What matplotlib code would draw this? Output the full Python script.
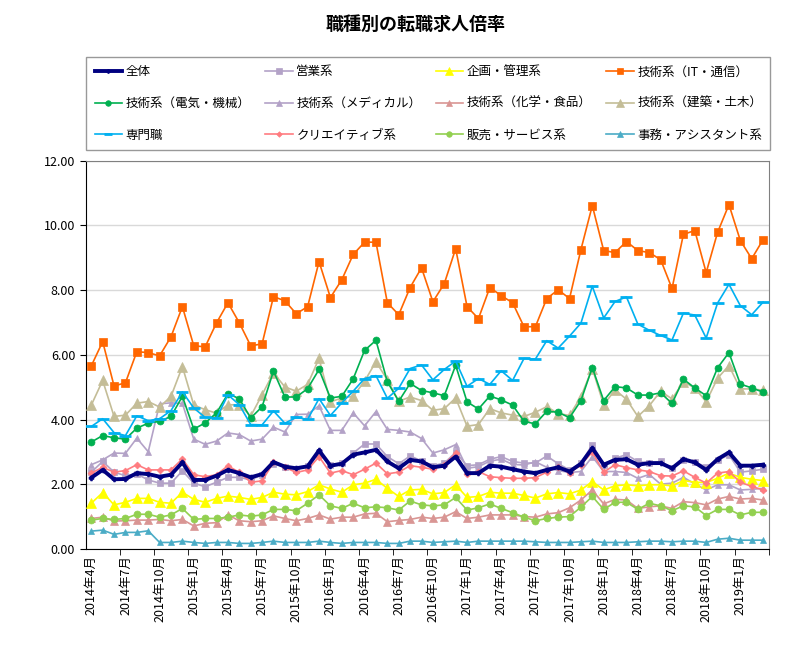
import numpy as np
import matplotlib.pyplot as plt

plt.rcParams['font.family'] = ['Noto Sans CJK JP', 'DejaVu Sans']

##### data (2014年4月 - 2019年3月, monthly)
start_year, start_month, n_months = 2014, 4, 60

zentai = [2.21, 2.45, 2.16, 2.17, 2.35, 2.32, 2.24, 2.30, 2.68, 2.14, 2.14, 2.27, 2.45, 2.35, 2.22, 2.32, 2.69, 2.55, 2.50, 2.56,
          3.05, 2.58, 2.64, 2.92, 2.99, 3.07, 2.71, 2.50, 2.76, 2.71, 2.53, 2.58, 2.86, 2.35, 2.35, 2.58, 2.55, 2.47, 2.40, 2.35,
          2.45, 2.53, 2.40, 2.64, 3.12, 2.61, 2.76, 2.78, 2.61, 2.66, 2.66, 2.50, 2.78, 2.68, 2.45, 2.78, 2.99, 2.58, 2.58, 2.61]
eigyo = [2.38, 2.71, 2.38, 2.27, 2.32, 2.14, 2.04, 2.04, 2.42, 2.04, 1.93, 2.07, 2.22, 2.22, 2.14, 2.30, 2.63, 2.55, 2.45, 2.58,
         2.97, 2.61, 2.66, 2.97, 3.25, 3.25, 2.86, 2.64, 2.88, 2.73, 2.58, 2.66, 2.99, 2.58, 2.61, 2.78, 2.86, 2.71, 2.66, 2.66,
         2.88, 2.64, 2.45, 2.66, 3.23, 2.61, 2.81, 2.92, 2.71, 2.66, 2.71, 2.50, 2.74, 2.68, 2.55, 2.74, 2.92, 2.38, 2.42, 2.47]
kikaku = [1.42, 1.75, 1.37, 1.45, 1.57, 1.57, 1.45, 1.42, 1.76, 1.54, 1.45, 1.57, 1.64, 1.60, 1.54, 1.60, 1.76, 1.70, 1.68, 1.78,
          1.99, 1.86, 1.76, 1.99, 2.04, 2.16, 1.88, 1.63, 1.83, 1.85, 1.71, 1.75, 1.99, 1.60, 1.63, 1.76, 1.73, 1.73, 1.66, 1.58,
          1.71, 1.75, 1.71, 1.83, 2.09, 1.83, 1.96, 1.99, 1.96, 1.99, 1.99, 1.96, 2.12, 2.07, 2.06, 2.19, 2.35, 2.22, 2.16, 2.12]
gijutsu_it = [5.66, 6.41, 5.04, 5.14, 6.10, 6.07, 5.97, 6.56, 7.49, 6.28, 6.25, 6.99, 7.61, 6.99, 6.28, 6.34, 7.80, 7.67, 7.27, 7.49,
              8.88, 7.77, 8.32, 9.10, 9.48, 9.48, 7.61, 7.24, 8.08, 8.69, 7.64, 8.20, 9.28, 7.49, 7.12, 8.08, 7.83, 7.61, 6.87, 6.87,
              7.74, 8.01, 7.74, 9.25, 10.61, 9.22, 9.16, 9.50, 9.22, 9.16, 8.94, 8.05, 9.72, 9.84, 8.54, 9.78, 10.64, 9.53, 8.97, 9.56]
gijutsu_denki = [3.31, 3.51, 3.44, 3.40, 3.74, 3.89, 3.95, 4.10, 4.72, 3.71, 3.90, 4.21, 4.80, 4.65, 4.05, 4.40, 5.50, 4.70, 4.70, 4.96,
                 5.55, 4.67, 4.72, 5.26, 6.14, 6.45, 5.17, 4.57, 5.12, 4.90, 4.83, 4.74, 5.68, 4.55, 4.33, 4.73, 4.61, 4.45, 3.95, 3.87,
                 4.26, 4.23, 4.06, 4.59, 5.61, 4.59, 5.02, 4.98, 4.76, 4.76, 4.83, 4.50, 5.25, 4.98, 4.74, 5.60, 6.07, 5.10, 4.98, 4.85]
gijutsu_medical = [2.61, 2.76, 2.97, 2.96, 3.43, 3.01, 4.49, 4.52, 4.50, 3.40, 3.24, 3.34, 3.59, 3.54, 3.34, 3.40, 3.77, 3.62, 4.16, 4.17,
                   4.43, 3.67, 3.67, 4.21, 3.81, 4.25, 3.70, 3.67, 3.62, 3.42, 2.97, 3.07, 3.23, 2.50, 2.55, 2.72, 2.78, 2.62, 2.60, 2.70,
                   2.53, 2.43, 2.37, 2.40, 2.86, 2.40, 2.40, 2.37, 2.19, 2.31, 2.01, 2.04, 2.22, 2.02, 1.83, 1.99, 1.99, 1.83, 1.85, 1.88]
gijutsu_kagaku = [0.95, 0.99, 0.87, 0.88, 0.90, 0.90, 0.92, 0.88, 0.92, 0.72, 0.80, 0.82, 1.06, 0.88, 0.85, 0.88, 1.03, 0.95, 0.88, 0.95,
                  1.06, 0.93, 0.99, 0.99, 1.09, 1.11, 0.85, 0.89, 0.92, 0.99, 0.95, 0.99, 1.16, 0.95, 0.99, 1.06, 1.06, 1.06, 1.01, 0.99,
                  1.09, 1.13, 1.28, 1.52, 1.83, 1.40, 1.54, 1.52, 1.26, 1.31, 1.34, 1.26, 1.47, 1.44, 1.37, 1.55, 1.63, 1.55, 1.57, 1.52]
gijutsu_kenchiku = [4.45, 5.21, 4.10, 4.14, 4.51, 4.56, 4.39, 4.72, 5.64, 4.45, 4.31, 4.20, 4.46, 4.46, 4.11, 4.77, 5.45, 5.01, 4.88, 5.09,
                    5.89, 4.55, 4.67, 4.72, 5.19, 5.79, 5.23, 4.57, 4.70, 4.59, 4.29, 4.34, 4.67, 3.80, 3.85, 4.34, 4.21, 4.14, 4.10, 4.23,
                    4.40, 4.19, 4.13, 4.71, 5.58, 4.46, 4.92, 4.63, 4.10, 4.43, 4.88, 4.64, 5.17, 4.98, 4.55, 5.28, 5.67, 4.95, 4.95, 4.91]
senmon = [3.79, 4.03, 3.60, 3.51, 4.12, 3.97, 4.03, 4.28, 4.86, 4.36, 4.07, 4.05, 4.77, 4.46, 3.85, 3.84, 4.27, 3.89, 4.07, 4.01,
          4.65, 4.13, 4.52, 4.88, 5.27, 5.36, 4.66, 4.97, 5.58, 5.69, 5.23, 5.55, 5.81, 5.03, 5.27, 5.09, 5.51, 5.21, 5.89, 5.87,
          6.44, 6.21, 6.58, 6.98, 8.12, 7.14, 7.65, 7.79, 6.95, 6.76, 6.60, 6.46, 7.29, 7.23, 6.52, 7.60, 8.18, 7.52, 7.24, 7.63]
creative = [2.35, 2.53, 2.38, 2.43, 2.61, 2.45, 2.45, 2.45, 2.79, 2.30, 2.24, 2.30, 2.58, 2.37, 2.07, 2.11, 2.68, 2.53, 2.37, 2.45,
            2.86, 2.35, 2.43, 2.30, 2.47, 2.66, 2.33, 2.38, 2.58, 2.53, 2.47, 2.61, 2.97, 2.32, 2.40, 2.24, 2.21, 2.19, 2.19, 2.21,
            2.38, 2.55, 2.35, 2.61, 3.00, 2.38, 2.61, 2.52, 2.45, 2.40, 2.27, 2.26, 2.42, 2.22, 2.04, 2.35, 2.40, 2.07, 1.94, 1.83]
hanbai = [0.90, 0.95, 0.92, 0.95, 1.08, 1.08, 0.99, 1.06, 1.26, 0.92, 0.95, 0.95, 0.99, 1.06, 1.02, 1.06, 1.23, 1.23, 1.19, 1.42,
          1.68, 1.34, 1.26, 1.42, 1.28, 1.31, 1.28, 1.21, 1.49, 1.37, 1.34, 1.37, 1.60, 1.21, 1.28, 1.40, 1.26, 1.13, 0.99, 0.88,
          0.95, 0.99, 1.01, 1.30, 1.63, 1.23, 1.45, 1.45, 1.23, 1.42, 1.34, 1.19, 1.34, 1.31, 1.04, 1.23, 1.23, 1.06, 1.14, 1.14]
jimu = [0.56, 0.59, 0.46, 0.52, 0.52, 0.57, 0.21, 0.21, 0.25, 0.21, 0.18, 0.21, 0.21, 0.18, 0.18, 0.21, 0.25, 0.21, 0.21, 0.21,
        0.25, 0.21, 0.18, 0.21, 0.21, 0.21, 0.18, 0.18, 0.25, 0.25, 0.21, 0.23, 0.25, 0.21, 0.25, 0.25, 0.25, 0.25, 0.25, 0.23,
        0.21, 0.21, 0.21, 0.23, 0.25, 0.21, 0.21, 0.21, 0.23, 0.25, 0.25, 0.23, 0.25, 0.25, 0.21, 0.31, 0.34, 0.28, 0.28, 0.28]

## month labels
labels = []
y, m = start_year, start_month
for i in range(n_months):
    labels.append('%d年%d月' % (y, m))
    m += 1
    if m > 12:
        m = 1
        y += 1

x = np.arange(n_months)

## (name, values, color, marker, markersize, linewidth, zorder)
series = [
    ('全体', zentai, '#000080', 'P', 3.5, 2.8, 20),
    ('営業系', eigyo, '#B3A2C7', 's', 5, 1.2, 5),
    ('企画・管理系', kikaku, '#FFFF00', '^', 7, 1.2, 5),
    ('技術系（IT・通信）', gijutsu_it, '#FF6600', 's', 6, 1.2, 5),
    ('技術系（電気・機械）', gijutsu_denki, '#00B050', 'o', 5, 1.2, 5),
    ('技術系（メディカル）', gijutsu_medical, '#B3A2C7', '^', 5, 1.2, 4),
    ('技術系（化学・食品）', gijutsu_kagaku, '#D99694', '^', 6, 1.2, 5),
    ('技術系（建築・土木）', gijutsu_kenchiku, '#C4BD97', '^', 7, 1.2, 4),
    ('専門職', senmon, '#00B0F0', '_', 8, 1.2, 5),
    ('クリエイティブ系', creative, '#FF7C80', 'D', 3.5, 1.2, 6),
    ('販売・サービス系', hanbai, '#92D050', 'o', 5, 1.2, 5),
    ('事務・アシスタント系', jimu, '#4BACC6', '^', 5, 1.2, 5),
]

fig = plt.figure(figsize=(8, 6.5), dpi=100)
ax = fig.add_axes([0.107, 0.155, 0.854, 0.598])

handles = []
for name, vals, col, mk, ms, lw, zo in series:
    mew = 2 if mk == '_' else 0.5
    h, = ax.plot(x, vals, color=col, marker=mk, markersize=ms, linewidth=lw,
                 markeredgecolor=col, markeredgewidth=mew, label=name, zorder=zo)
    handles.append(h)

ax.set_xlim(-0.5, n_months - 0.5)
ax.set_ylim(0, 12)
ax.set_yticks(np.arange(0, 12.01, 2))
ax.set_yticklabels(['%.2f' % v for v in np.arange(0, 12.01, 2)], fontsize=9)
ax.yaxis.grid(True, color='#D9D9D9', linewidth=1)
ax.set_axisbelow(True)

ax.set_xticks(x[::3])
ax.set_xticklabels(labels[::3], rotation=90, fontsize=9)
ax.set_xticks(np.arange(2.5, n_months, 3), minor=True)
ax.tick_params(axis='x', which='major', length=0, pad=4)
ax.tick_params(axis='x', which='minor', length=4, direction='out', color='black')
ax.tick_params(axis='y', length=4, direction='out')

ax.spines['left'].set_color('black')
ax.spines['bottom'].set_color('black')
ax.spines['top'].set_color('#808080')
ax.spines['right'].set_color('#808080')

fig.text(0.52, 0.963, '職種別の転職求人倍率', ha='center', va='center',
         fontsize=13, fontweight='bold')

## legend: 3 rows x 4 columns, filled row by row
ncol, nrow = 4, 3
order = [r * ncol + c for c in range(ncol) for r in range(nrow)]
leg = fig.legend([handles[k] for k in order], [series[k][0] for k in order],
                 loc='upper left', bbox_to_anchor=(0.108, 0.766, 0.855, 0.146),
                 mode='expand', ncol=ncol, fontsize=9, frameon=True, fancybox=False,
                 edgecolor='#808080', handlelength=2.2, handletextpad=0.3,
                 borderaxespad=0, labelspacing=1.5, borderpad=0.65, markerscale=0.8)
leg.get_frame().set_linewidth(1)

fig.savefig('out.png', dpi=100)
plt.close()
